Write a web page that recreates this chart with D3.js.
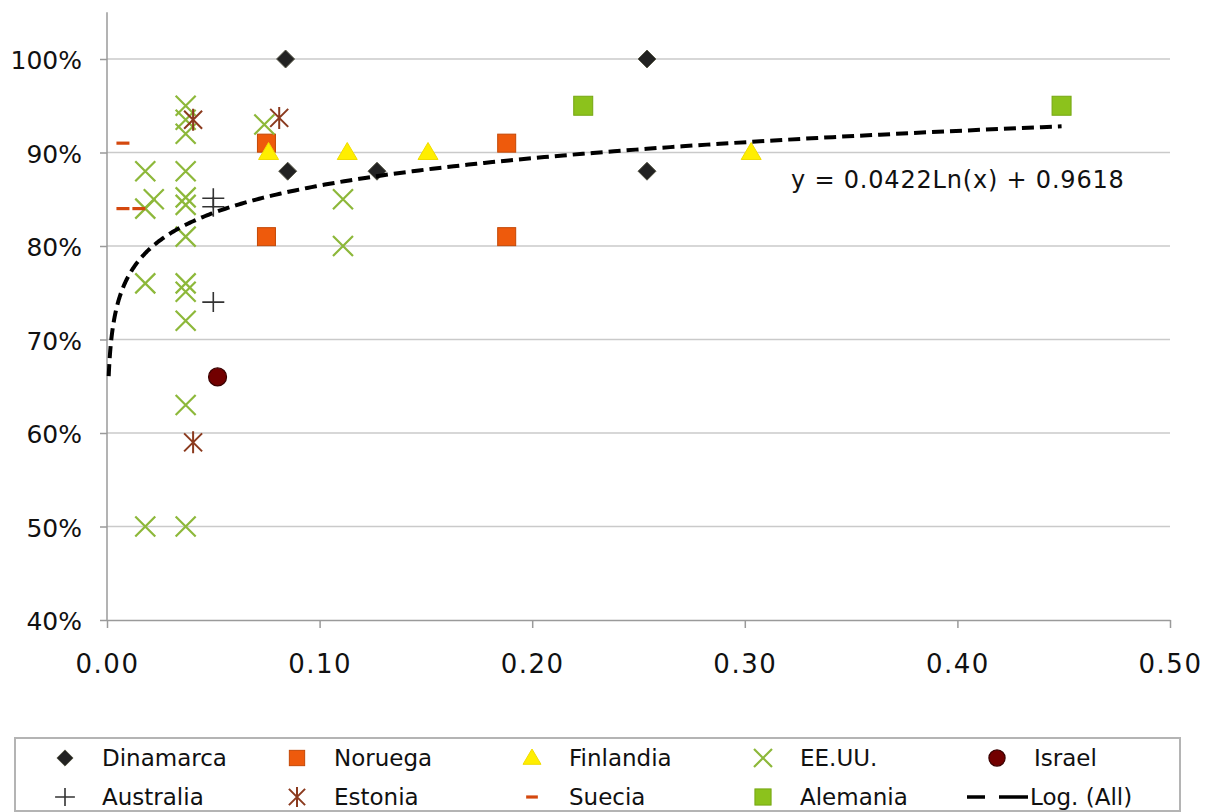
<!DOCTYPE html>
<html>
<head>
<meta charset="utf-8">
<script src="https://cdn.jsdelivr.net/npm/d3@7"></script>
<style>
  body { margin: 0; background: #fff; }
  svg { display: block; }
  text { font-family: "DejaVu Sans", Verdana, sans-serif; fill: #111; }
</style>
</head>
<body>
<div id="chart"></div>
<script>
// axis ticks
const yTicks = [0.4, 0.5, 0.6, 0.7, 0.8, 0.9, 1.0];
const xTicks = [0, 0.1, 0.2, 0.3, 0.4, 0.5];

// series values, [x, y]
const dinamarca = [[0.084, 1.00], [0.085, 0.88], [0.127, 0.88], [0.254, 1.00], [0.254, 0.88]];
const noruega = [[0.075, 0.91], [0.075, 0.81], [0.188, 0.91], [0.188, 0.81]];
const finlandia = [[0.076, 0.90], [0.113, 0.90], [0.151, 0.90], [0.303, 0.90]];
const eeuu = [[0.018, 0.88], [0.018, 0.84], [0.022, 0.85], [0.018, 0.76], [0.018, 0.50],
              [0.037, 0.95], [0.037, 0.935], [0.037, 0.92], [0.037, 0.88], [0.037, 0.852],
              [0.037, 0.844], [0.037, 0.81], [0.037, 0.76], [0.037, 0.751], [0.037, 0.72],
              [0.037, 0.63], [0.037, 0.50], [0.074, 0.93], [0.111, 0.85], [0.111, 0.80]];
const israel = [[0.052, 0.66]];
const australia = [[0.050, 0.851], [0.050, 0.842], [0.050, 0.74]];
const estonia = [[0.0405, 0.935], [0.081, 0.937], [0.0405, 0.59]];
const suecia = [[0.0075, 0.91], [0.0075, 0.84], [0.015, 0.84]];
const alemania = [[0.224, 0.95], [0.449, 0.95]];

// log trendline y = a*ln(x) + b
const trendA = 0.0422;
const trendB = 0.9618;
const trendStart = 0.0008;
const trendEnd = 0.449;
const trendLabel = "y = 0.0422Ln(x) + 0.9618";

const series = [
  {name: "Dinamarca", kind: "diamond", data: dinamarca},
  {name: "Noruega", kind: "squareOrange", data: noruega},
  {name: "Finlandia", kind: "triangle", data: finlandia},
  {name: "EE.UU.", kind: "cross", data: eeuu},
  {name: "Israel", kind: "circle", data: israel},
  {name: "Australia", kind: "plus", data: australia},
  {name: "Estonia", kind: "asterisk", data: estonia},
  {name: "Suecia", kind: "dash", data: suecia},
  {name: "Alemania", kind: "squareGreen", data: alemania}
];

const width = 1211, height = 812;

let svg = d3.select('#chart')
    .append('svg')
    .attr('width', width)
    .attr('height', height);

let x = d3.scaleLinear().domain([0, 0.5]).range([107, 1170]);
let y = d3.scaleLinear().domain([0.4, 1.0]).range([620, 59]);

// gridlines
svg.append('g')
    .selectAll('line')
    .data(yTicks.filter(d => d > 0.4))
    .enter()
    .append('line')
    .attr('x1', x(0))
    .attr('x2', x(0.5))
    .attr('y1', d => y(d))
    .attr('y2', d => y(d))
    .attr('stroke', '#cacaca')
    .attr('stroke-width', 1.5);

// y axis
let yAxis = svg.append('g')
    .attr('transform', `translate(${x(0)},0)`)
    .call(d3.axisLeft(y).tickValues(yTicks).tickSize(7).tickPadding(18)
        .tickFormat(d3.format('.0%')));
yAxis.select('.domain').remove();
yAxis.selectAll('.tick line').attr('stroke', '#9a9a9a').attr('stroke-width', 1.5);
yAxis.selectAll('.tick text')
    .style('font-family', '"DejaVu Sans", Verdana, sans-serif')
    .style('font-size', '25px')
    .attr('fill', '#111')
    .attr('dy', '0.38em');
svg.append('line')
    .attr('x1', x(0)).attr('x2', x(0))
    .attr('y1', y(0.4)).attr('y2', y(1.05))
    .attr('stroke', '#9a9a9a')
    .attr('stroke-width', 1.5);

// x axis
let xAxis = svg.append('g')
    .attr('transform', `translate(0,${y(0.4)})`)
    .call(d3.axisBottom(x).tickValues(xTicks).tickSize(8).tickSizeOuter(0).tickPadding(27)
        .tickFormat(d3.format('.2f')));
xAxis.select('.domain').attr('stroke', '#9a9a9a').attr('stroke-width', 1.5);
xAxis.selectAll('.tick line').attr('stroke', '#9a9a9a').attr('stroke-width', 1.5);
xAxis.selectAll('.tick text')
    .style('font-family', '"DejaVu Sans", Verdana, sans-serif')
    .style('font-size', '26px')
    .style('letter-spacing', '1.5px')
    .attr('fill', '#111');

// draws one marker inside a group centred at 0,0
let drawMarker = (g, kind, s = 1) => {
  if (kind === 'diamond') {
    g.append('path').attr('d', `M0,${-9*s}L${9*s},0L0,${9*s}L${-9*s},0Z`)
        .attr('fill', '#222').attr('stroke', '#5a5a4a').attr('stroke-width', 1);
  } else if (kind === 'squareOrange') {
    g.append('rect').attr('x', -9*s).attr('y', -9*s).attr('width', 18*s).attr('height', 18*s)
        .attr('fill', '#ee5a0c').attr('stroke', '#c44806').attr('stroke-width', 1);
  } else if (kind === 'squareGreen') {
    g.append('rect').attr('x', -9.5*s).attr('y', -9.5*s).attr('width', 19*s).attr('height', 19*s)
        .attr('fill', '#8cc21c').attr('stroke', '#76a612').attr('stroke-width', 1);
  } else if (kind === 'triangle') {
    g.append('path').attr('d', `M0,${-10*s}L${10*s},${7*s}L${-10*s},${7*s}Z`)
        .attr('fill', '#ffee00').attr('stroke', '#f0dc00').attr('stroke-width', 1);
  } else if (kind === 'cross') {
    g.append('path').attr('d', `M${-10*s},${-10*s}L${10*s},${10*s}M${10*s},${-10*s}L${-10*s},${10*s}`)
        .attr('stroke', '#8db83a').attr('stroke-width', 2.2).attr('fill', 'none');
  } else if (kind === 'circle') {
    g.append('circle').attr('r', 9*s)
        .attr('fill', '#720000').attr('stroke', '#3a0000').attr('stroke-width', 1.2);
  } else if (kind === 'plus') {
    g.append('path').attr('d', `M${-11*s},0L${11*s},0M0,${-10*s}L0,${10*s}`)
        .attr('stroke', '#333').attr('stroke-width', 1.6).attr('fill', 'none');
  } else if (kind === 'asterisk') {
    g.append('path').attr('d', `M${-9*s},${-9*s}L${9*s},${9*s}M${9*s},${-9*s}L${-9*s},${9*s}M0,${-11*s}L0,${11*s}`)
        .attr('stroke', '#8b3a1e').attr('stroke-width', 2).attr('fill', 'none');
  } else if (kind === 'dash') {
    g.append('path').attr('d', `M${-6.5*s},0L${6.5*s},0`)
        .attr('stroke', '#d4480e').attr('stroke-width', 3.2);
  }
};

// scatter points
let pointsRef = svg.append('g');
series.forEach(sr => {
  pointsRef.append('g')
      .selectAll('g')
      .data(sr.data)
      .enter()
      .append('g')
      .attr('transform', d => `translate(${x(d[0])},${y(d[1])})`)
      .each(function () { drawMarker(d3.select(this), sr.kind); });
});

// trendline, sampled on a log scale so the bend near zero is smooth
let trendXs = d3.range(0, 301).map(i => trendStart * Math.pow(trendEnd / trendStart, i / 300));
svg.append('path')
    .datum(trendXs)
    .attr('d', d3.line().x(d => x(d)).y(d => y(trendA * Math.log(d) + trendB)))
    .attr('fill', 'none')
    .attr('stroke', '#000')
    .attr('stroke-width', 4)
    .attr('stroke-dasharray', '12,6');

// equation label
svg.append('text')
    .attr('x', 791)
    .attr('y', 188)
    .style('font-size', '24px')
    .style('letter-spacing', '0.8px')
    .text(trendLabel);

// legend
svg.append('rect')
    .attr('x', 15).attr('y', 738)
    .attr('width', 1165).attr('height', 73)
    .attr('fill', 'none')
    .attr('stroke', '#b4b4b4')
    .attr('stroke-width', 2);

const legendCols = [65, 297, 532, 763, 997];
const legendRows = [758, 797];
const legendOrder = ["Dinamarca", "Noruega", "Finlandia", "EE.UU.", "Israel",
                     "Australia", "Estonia", "Suecia", "Alemania"];

let legend = svg.append('g');
legendOrder.forEach((name, i) => {
  let sr = series.find(s => s.name === name);
  let cx = legendCols[i % 5], cy = legendRows[Math.floor(i / 5)];
  let item = legend.append('g').attr('transform', `translate(${cx},${cy})`);
  drawMarker(item, sr.kind, sr.kind.startsWith('square') ? 0.85 : 0.9);
  legend.append('text')
      .attr('x', cx + 37)
      .attr('y', cy + 8)
      .style('font-size', '23px')
      .text(name);
});
// trendline entry
legend.append('line')
    .attr('x1', 967).attr('x2', 1028)
    .attr('y1', legendRows[1]).attr('y2', legendRows[1])
    .attr('stroke', '#000')
    .attr('stroke-width', 3.5)
    .attr('stroke-dasharray', '18,14,100');
legend.append('text')
    .attr('x', 1030)
    .attr('y', legendRows[1] + 8)
    .style('font-size', '23px')
    .text('Log. (All)');
</script>
</body>
</html>
